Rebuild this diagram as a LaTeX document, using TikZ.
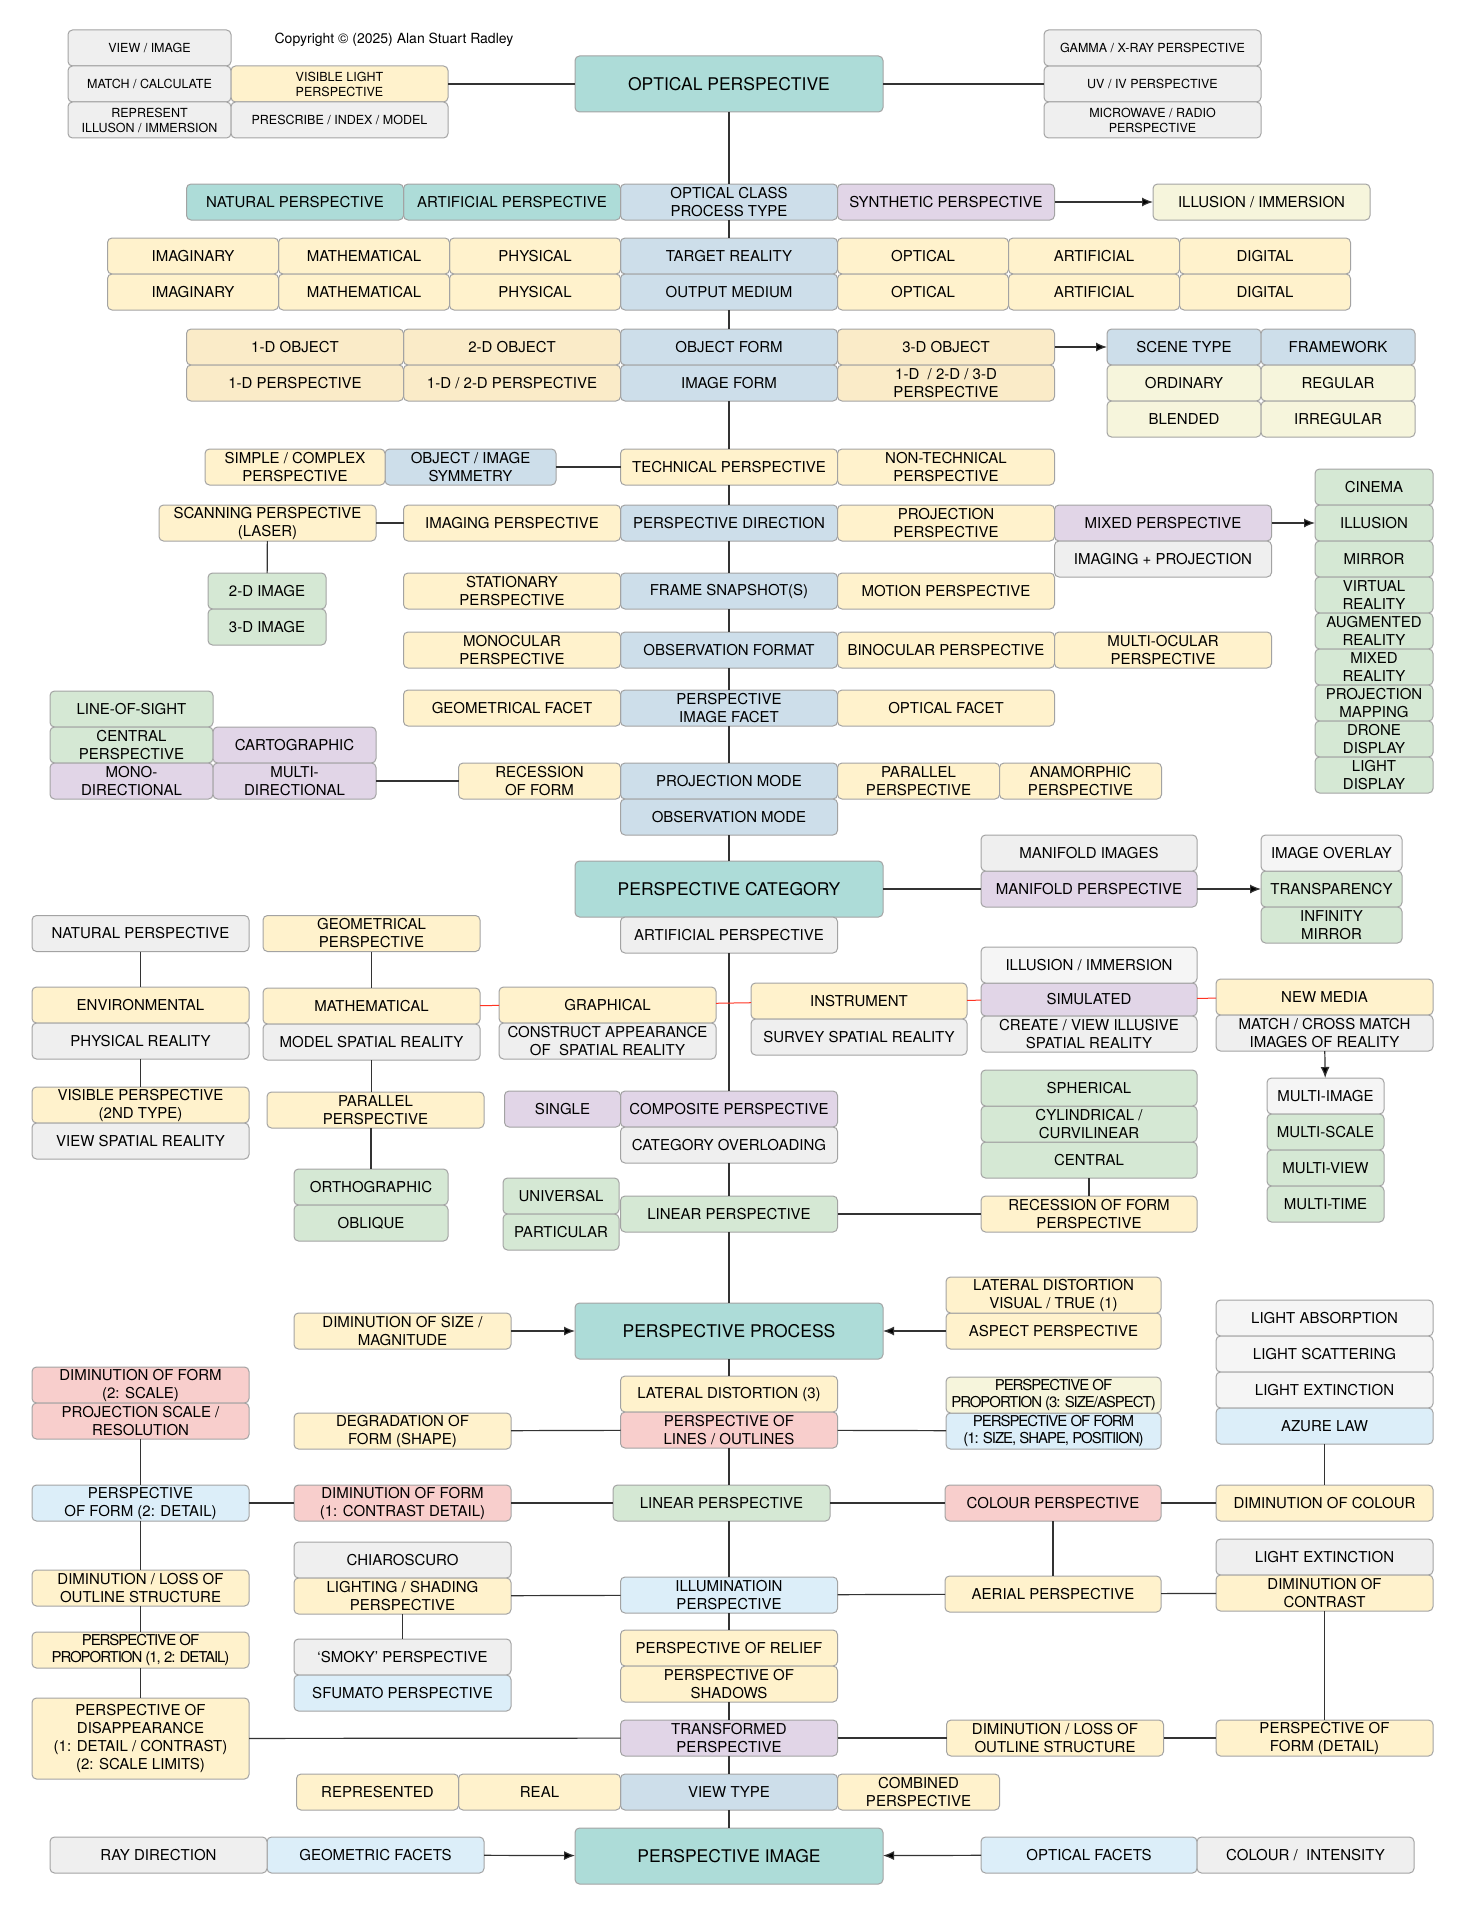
\documentclass[tikz,border=0pt]{standalone}
\usepackage{fontspec}
\setmainfont{TeX Gyre Heros}
\newfontfamily\tightfam[LetterSpace=-7]{TeX Gyre Heros}
\usetikzlibrary{positioning, arrows.meta}

\definecolor{tealfill}{HTML}{ADDCD8}
\definecolor{classfill}{HTML}{CDDEEA}
\definecolor{yelfill}{HTML}{FFF2CC}
\definecolor{tanfill}{HTML}{FAEBC8}
\definecolor{purfill}{HTML}{E1D5E7}
\definecolor{grnfill}{HTML}{D5E8D4}
\definecolor{gryfill}{HTML}{EFEFEF}
\definecolor{palefill}{HTML}{F5F5F5}
\definecolor{creamfill}{HTML}{F6F5DC}
\definecolor{pinkfill}{HTML}{F8CECC}
\definecolor{skyfill}{HTML}{DCEEF9}
\definecolor{boxline}{HTML}{A3A3A3}
\definecolor{linkline}{HTML}{333333}
\definecolor{redline}{HTML}{FF3322}

\newcommand{\cellfont}{\fontsize{15}{18}\selectfont}
\newcommand{\cellsmall}{\fontsize{12.5}{15}\selectfont}
\newcommand{\cellbig}{\fontsize{17.5}{21}\selectfont}
\newcommand{\celltight}{\tightfam\fontsize{15}{17}\selectfont}
\newcommand{\copyfont}{\fontsize{14}{16}\selectfont}

\tikzset{
  cell/.style={draw=boxline, line width=1pt, rounded corners=4.5pt, inner xsep=0pt, inner ysep=1pt,
    outer sep=0pt, align=center, minimum width=217pt, minimum height=36pt, font=\cellfont},
  topbox/.style={cell, fill=tealfill, minimum width=308pt, minimum height=56pt, font=\cellbig},
  tealbox/.style={cell, fill=tealfill},
  classbox/.style={cell, fill=classfill},
  yelbox/.style={cell, fill=yelfill},
  tanbox/.style={cell, fill=tanfill},
  purbox/.style={cell, fill=purfill},
  grnbox/.style={cell, fill=grnfill},
  grybox/.style={cell, fill=gryfill},
  palebox/.style={cell, fill=palefill},
  creambox/.style={cell, fill=creamfill},
  pinkbox/.style={cell, fill=pinkfill},
  skybox/.style={cell, fill=skyfill},
  wd/.style={minimum width=#1},
  smalltext/.style={font=\cellsmall},
  tighttext/.style={font=\celltight},
  link/.style={draw=linkline, line width=1.2pt},
  redlink/.style={draw=redline, line width=1pt},
  arrowlink/.style={link, -{Latex[length=11pt,width=9pt]}}
}

\begin{document}
\begin{tikzpicture}[x=1pt, y=-1pt, node distance=0pt]
  \useasboundingbox (0,0) rectangle (1464,1916);

  % header
  \node[grybox, wd=163pt, smalltext] (view) at (149.5,48) {VIEW / IMAGE};
  \node[grybox, wd=163pt, smalltext] (match) [below=of view] {MATCH / CALCULATE};
  \node[grybox, wd=163pt, smalltext] (repres) [below=of match] {REPRESENT\\ILLUSON / IMMERSION};
  \node[yelbox, smalltext] (vislight) [right=of match] {VISIBLE LIGHT\\PERSPECTIVE};
  \node[grybox, smalltext] (prescribe) [below=of vislight] {PRESCRIBE / INDEX / MODEL};
  \node[font=\copyfont] (copy) at (394,40) {Copyright © (2025) Alan Stuart Radley};

  \node[topbox] (optical) at (729,84) {OPTICAL PERSPECTIVE};
  \node[grybox, smalltext] (uv) at (1152.5,84) {UV / IV PERSPECTIVE};
  \node[grybox, smalltext] (gamma) [above=of uv] {GAMMA / X-RAY PERSPECTIVE};
  \node[grybox, smalltext] (micro) [below=of uv] {MICROWAVE / RADIO\\PERSPECTIVE};

  % optical class
  \node[classbox] (optclass) at (729,202) {OPTICAL CLASS\\PROCESS TYPE};
  \node[tealbox] (artp1) [left=of optclass] {ARTIFICIAL PERSPECTIVE};
  \node[tealbox] (natp1) [left=of artp1] {NATURAL PERSPECTIVE};
  \node[purbox] (synth) [right=of optclass] {SYNTHETIC PERSPECTIVE};
  \node[creambox] (illA) at (1261.5,202) {ILLUSION / IMMERSION};

  \node[classbox] (target) at (729,256) {TARGET REALITY};
  \node[classbox] (output) [below=of target] {OUTPUT MEDIUM};
  \node[yelbox, wd=171pt] (physA) [left=of target] {PHYSICAL};
  \node[yelbox, wd=171pt] (mathA) [left=of physA] {MATHEMATICAL};
  \node[yelbox, wd=171pt] (imagA) [left=of mathA] {IMAGINARY};
  \node[yelbox, wd=171pt] (physB) [left=of output] {PHYSICAL};
  \node[yelbox, wd=171pt] (mathC) [left=of physB] {MATHEMATICAL};
  \node[yelbox, wd=171pt] (imagB) [left=of mathC] {IMAGINARY};
  \node[yelbox, wd=171pt] (opticA) [right=of target] {OPTICAL};
  \node[yelbox, wd=171pt] (artA) [right=of opticA] {ARTIFICIAL};
  \node[yelbox, wd=171pt] (digA) [right=of artA] {DIGITAL};
  \node[yelbox, wd=171pt] (opticB) [right=of output] {OPTICAL};
  \node[yelbox, wd=171pt] (artB) [right=of opticB] {ARTIFICIAL};
  \node[yelbox, wd=171pt] (digB) [right=of artB] {DIGITAL};

  % form
  \node[classbox] (objform) at (729,347) {OBJECT FORM};
  \node[classbox] (imgform) [below=of objform] {IMAGE FORM};
  \node[tanbox] (obj2) [left=of objform] {2-D OBJECT};
  \node[tanbox] (obj1) [left=of obj2] {1-D OBJECT};
  \node[tanbox] (pers12) [left=of imgform] {1-D / 2-D PERSPECTIVE};
  \node[tanbox] (pers1) [left=of pers12] {1-D PERSPECTIVE};
  \node[tanbox] (obj3) [right=of objform] {3-D OBJECT};
  \node[tanbox] (pers123) [right=of imgform] {1-D\ \ / 2-D / 3-D\\PERSPECTIVE};
  \node[classbox, wd=154pt] (scene) at (1184,347) {SCENE TYPE};
  \node[classbox, wd=154pt] (framew) [right=of scene] {FRAMEWORK};
  \node[creambox, wd=154pt] (ordinary) [below=of scene] {ORDINARY};
  \node[creambox, wd=154pt] (regular) [below=of framew] {REGULAR};
  \node[creambox, wd=154pt] (blended) [below=of ordinary] {BLENDED};
  \node[creambox, wd=154pt] (irregular) [below=of regular] {IRREGULAR};

  % technical
  \node[yelbox] (tech) at (729,467) {TECHNICAL PERSPECTIVE};
  \node[yelbox] (nontech) [right=of tech] {NON-TECHNICAL\\PERSPECTIVE};
  \node[classbox, wd=171pt] (symm) at (470.5,467) {OBJECT / IMAGE\\SYMMETRY};
  \node[yelbox, wd=180pt] (simple) [left=of symm] {SIMPLE / COMPLEX\\PERSPECTIVE};

  % direction
  \node[classbox] (pdir) at (729,523) {PERSPECTIVE DIRECTION};
  \node[yelbox] (imaging) [left=of pdir] {IMAGING PERSPECTIVE};
  \node[yelbox] (projp) [right=of pdir] {PROJECTION\\PERSPECTIVE};
  \node[purbox] (mixed) [right=of projp] {MIXED PERSPECTIVE};
  \node[grybox] (imgproj) [below=of mixed] {IMAGING + PROJECTION};
  \node[yelbox] (scanning) at (267.5,523) {SCANNING PERSPECTIVE\\(LASER)};
  \node[grnbox, wd=118pt] (img2d) at (267,591) {2-D IMAGE};
  \node[grnbox, wd=118pt] (img3d) [below=of img2d] {3-D IMAGE};

  \node[grnbox, wd=118pt] (cinema) at (1374,487) {CINEMA};
  \node[grnbox, wd=118pt] (illB) [below=of cinema] {ILLUSION};
  \node[grnbox, wd=118pt] (mirror) [below=of illB] {MIRROR};
  \node[grnbox, wd=118pt] (vr) [below=of mirror] {VIRTUAL\\REALITY};
  \node[grnbox, wd=118pt] (ar) [below=of vr] {AUGMENTED\\REALITY};
  \node[grnbox, wd=118pt] (mr) [below=of ar] {MIXED\\REALITY};
  \node[grnbox, wd=118pt] (pmap) [below=of mr] {PROJECTION\\MAPPING};
  \node[grnbox, wd=118pt] (drone) [below=of pmap] {DRONE\\DISPLAY};
  \node[grnbox, wd=118pt] (lightd) [below=of drone] {LIGHT\\DISPLAY};

  \node[classbox] (frame) at (729,591) {FRAME SNAPSHOT(S)};
  \node[yelbox] (stat) [left=of frame] {STATIONARY\\PERSPECTIVE};
  \node[yelbox] (motion) [right=of frame] {MOTION PERSPECTIVE};

  \node[classbox] (obsfmt) at (729,650) {OBSERVATION FORMAT};
  \node[yelbox] (monoc) [left=of obsfmt] {MONOCULAR\\PERSPECTIVE};
  \node[yelbox] (binoc) [right=of obsfmt] {BINOCULAR PERSPECTIVE};
  \node[yelbox] (multioc) [right=of binoc] {MULTI-OCULAR\\PERSPECTIVE};

  \node[classbox] (facet) at (729,708) {PERSPECTIVE\\IMAGE FACET};
  \node[yelbox] (geofacet) [left=of facet] {GEOMETRICAL FACET};
  \node[yelbox] (optfacet) [right=of facet] {OPTICAL FACET};

  \node[classbox] (projmode) at (729,781) {PROJECTION MODE};
  \node[classbox] (obsmode) [below=of projmode] {OBSERVATION MODE};
  \node[yelbox, wd=162pt] (recess) [left=of projmode] {RECESSION\\OF FORM};
  \node[yelbox, wd=162pt] (parA) [right=of projmode] {PARALLEL\\PERSPECTIVE};
  \node[yelbox, wd=162pt] (anam) [right=of parA] {ANAMORPHIC\\PERSPECTIVE};
  \node[grnbox, wd=163pt] (los) at (131.5,709) {LINE-OF-SIGHT};
  \node[grnbox, wd=163pt] (centralA) [below=of los] {CENTRAL\\PERSPECTIVE};
  \node[purbox, wd=163pt] (monodir) [below=of centralA] {MONO-\\DIRECTIONAL};
  \node[purbox, wd=163pt] (carto) [right=of centralA] {CARTOGRAPHIC};
  \node[purbox, wd=163pt] (multidir) [below=of carto] {MULTI-\\DIRECTIONAL};

  % category
  \node[topbox] (pcat) at (729,889) {PERSPECTIVE CATEGORY};
  \node[grybox] (artp2) [below=of pcat] {ARTIFICIAL PERSPECTIVE};
  \node[purbox, wd=216pt] (manifp) at (1089,889) {MANIFOLD PERSPECTIVE};
  \node[grybox, wd=216pt] (manifimg) [above=of manifp] {MANIFOLD IMAGES};
  \node[grnbox, wd=141pt] (transp) at (1331.5,889) {TRANSPARENCY};
  \node[palebox, wd=141pt] (overlay) [above=of transp] {IMAGE OVERLAY};
  \node[grnbox, wd=141pt] (infinity) [below=of transp] {INFINITY\\MIRROR};

  \node[grybox] (natp2) at (140.5,933.5) {NATURAL PERSPECTIVE};
  \node[yelbox] (geomp) at (371.5,933.5) {GEOMETRICAL\\PERSPECTIVE};
  \node[yelbox] (env) at (140.5,1005) {ENVIRONMENTAL};
  \node[grybox] (physreal) [below=of env] {PHYSICAL REALITY};
  \node[yelbox] (visp) at (140.5,1105) {VISIBLE PERSPECTIVE\\(2ND TYPE)};
  \node[grybox] (viewreal) [below=of visp] {VIEW SPATIAL REALITY};
  \node[yelbox] (mathB) at (371.5,1006) {MATHEMATICAL};
  \node[grybox] (modelreal) [below=of mathB] {MODEL SPATIAL REALITY};
  \node[yelbox] (parB) at (375.5,1110) {PARALLEL\\PERSPECTIVE};
  \node[grnbox, wd=154pt] (ortho) at (371,1187) {ORTHOGRAPHIC};
  \node[grnbox, wd=154pt] (oblique) [below=of ortho] {OBLIQUE};

  \node[yelbox] (graphical) at (607.5,1005) {GRAPHICAL};
  \node[grybox] (construct) [below=of graphical] {CONSTRUCT APPEARANCE\\OF\ \ SPATIAL REALITY};
  \node[yelbox, wd=216pt] (instr) at (859,1001) {INSTRUMENT};
  \node[grybox, wd=216pt] (survey) [below=of instr] {SURVEY SPATIAL REALITY};
  \node[purbox, wd=216pt, minimum height=33pt] (simul) at (1089,999.5) {SIMULATED};
  \node[palebox, wd=216pt] (illC) [above=of simul] {ILLUSION / IMMERSION};
  \node[grybox, wd=216pt] (create) [below=of simul] {CREATE / VIEW ILLUSIVE\\SPATIAL REALITY};
  \node[yelbox] (newmedia) at (1324.5,997) {NEW MEDIA};
  \node[grybox] (matchB) [below=of newmedia] {MATCH / CROSS MATCH\\IMAGES OF REALITY};
  \node[palebox, wd=117pt] (multiimg) at (1325.5,1096) {MULTI-IMAGE};
  \node[grnbox, wd=117pt] (multiscale) [below=of multiimg] {MULTI-SCALE};
  \node[grnbox, wd=117pt] (multiview) [below=of multiscale] {MULTI-VIEW};
  \node[grnbox, wd=117pt] (multitime) [below=of multiview] {MULTI-TIME};

  \node[purbox] (composite) at (729,1109) {COMPOSITE PERSPECTIVE};
  \node[grybox] (overload) [below=of composite] {CATEGORY OVERLOADING};
  \node[purbox, wd=116pt] (single) [left=of composite] {SINGLE};
  \node[grnbox] (linearA) at (729,1214) {LINEAR PERSPECTIVE};
  \node[grnbox, wd=116pt] (univ) at (561,1196) {UNIVERSAL};
  \node[grnbox, wd=116pt] (partic) [below=of univ] {PARTICULAR};
  \node[yelbox, wd=216pt] (recform) at (1089,1214) {RECESSION OF FORM\\PERSPECTIVE};
  \node[grnbox, wd=216pt] (centralB) at (1089,1160) {CENTRAL};
  \node[grnbox, wd=216pt] (cylind) [above=of centralB] {CYLINDRICAL /\\CURVILINEAR};
  \node[grnbox, wd=216pt] (spher) [above=of cylind] {SPHERICAL};

  % process
  \node[topbox] (pproc) at (729,1331) {PERSPECTIVE PROCESS};
  \node[yelbox] (dimsize) at (402.5,1331) {DIMINUTION OF SIZE /\\MAGNITUDE};
  \node[yelbox, wd=215pt] (aspect) at (1053.5,1331) {ASPECT PERSPECTIVE};
  \node[yelbox, wd=215pt] (latB) [above=of aspect] {LATERAL DISTORTION\\VISUAL / TRUE (1)};
  \node[yelbox] (latdist) at (729,1394) {LATERAL DISTORTION (3)};
  \node[pinkbox] (plines) [below=of latdist] {PERSPECTIVE OF\\LINES / OUTLINES};
  \node[yelbox] (degrad) at (402.5,1431) {DEGRADATION OF\\FORM (SHAPE)};
  \node[skybox, wd=215pt, tighttext] (pform1) at (1053.5,1431) {PERSPECTIVE OF FORM\\(1: SIZE, SHAPE, POSITIION)};
  \node[creambox, wd=215pt, tighttext] (pprop3) [above=of pform1] {PERSPECTIVE OF\\PROPORTION (3: SIZE/ASPECT)};
  \node[palebox] (lightabs) at (1324.5,1318) {LIGHT ABSORPTION};
  \node[palebox] (lightscat) [below=of lightabs] {LIGHT SCATTERING};
  \node[palebox] (lightext1) [below=of lightscat] {LIGHT EXTINCTION};
  \node[skybox] (azure) [below=of lightext1] {AZURE LAW};

  \node[pinkbox] (dimform2) at (140.5,1385) {DIMINUTION OF FORM\\(2: SCALE)};
  \node[pinkbox] (projscale) [below=of dimform2] {PROJECTION SCALE /\\RESOLUTION};
  \node[skybox] (pform2) at (140.5,1503) {PERSPECTIVE\\OF FORM (2: DETAIL)};
  \node[pinkbox] (dimform1) at (402.5,1503) {DIMINUTION OF FORM\\(1: CONTRAST DETAIL)};
  \node[grnbox] (linearB) at (721.5,1503) {LINEAR PERSPECTIVE};
  \node[pinkbox, wd=216pt] (colourp) at (1053,1503) {COLOUR PERSPECTIVE};
  \node[yelbox] (dimcol) at (1324.5,1503) {DIMINUTION OF COLOUR};

  \node[grybox] (lightext2) at (1324.5,1557) {LIGHT EXTINCTION};
  \node[yelbox] (dimcon) [below=of lightext2] {DIMINUTION OF\\CONTRAST};
  \node[yelbox, wd=216pt] (aerial) at (1053,1594) {AERIAL PERSPECTIVE};
  \node[skybox] (illum) at (729,1595) {ILLUMINATIOIN\\PERSPECTIVE};
  \node[grybox] (chiaro) at (402.5,1560) {CHIAROSCURO};
  \node[yelbox] (lighting) [below=of chiaro] {LIGHTING / SHADING\\PERSPECTIVE};
  \node[grybox] (smoky) at (402.5,1657) {‘SMOKY’ PERSPECTIVE};
  \node[skybox] (sfumato) [below=of smoky] {SFUMATO PERSPECTIVE};
  \node[yelbox] (relief) at (729,1648) {PERSPECTIVE OF RELIEF};
  \node[yelbox] (shadows) [below=of relief] {PERSPECTIVE OF\\SHADOWS};

  \node[purbox] (transf) at (729,1738) {TRANSFORMED\\PERSPECTIVE};
  \node[yelbox] (dimloss2) at (1055,1738) {DIMINUTION / LOSS OF\\OUTLINE STRUCTURE};
  \node[yelbox] (pformd) at (1324.5,1738) {PERSPECTIVE OF\\FORM (DETAIL)};
  \node[yelbox] (dimloss1) at (140.5,1588) {DIMINUTION / LOSS OF\\OUTLINE STRUCTURE};
  \node[yelbox, tighttext] (pprop12) at (140.5,1650) {PERSPECTIVE OF\\PROPORTION (1, 2: DETAIL)};
  \node[yelbox, minimum height=81pt] (disapp) at (140.5,1738.5) {PERSPECTIVE OF\\DISAPPEARANCE\\(1: DETAIL / CONTRAST)\\(2: SCALE LIMITS)};

  % image
  \node[classbox] (viewtype) at (729,1792) {VIEW TYPE};
  \node[yelbox, wd=162pt] (real) [left=of viewtype] {REAL};
  \node[yelbox, wd=162pt] (repr) [left=of real] {REPRESENTED};
  \node[yelbox, wd=162pt] (combined) [right=of viewtype] {COMBINED\\PERSPECTIVE};
  \node[topbox] (pimage) at (729,1856) {PERSPECTIVE IMAGE};
  \node[skybox] (geomfac) at (375.5,1855) {GEOMETRIC FACETS};
  \node[grybox] (raydir) [left=of geomfac] {RAY DIRECTION};
  \node[skybox, wd=216pt] (optfac) at (1089,1855) {OPTICAL FACETS};
  \node[grybox] (colint) [right=of optfac] {COLOUR /\ \ INTENSITY};

  % connectors
  \path[link]
    (vislight) edge (optical)
    (optical) edge (uv)
    (optical) edge (optclass)
    (optclass) edge (target)
    (output) edge (objform)
    (imgform) edge (tech)
    (symm) edge (tech)
    (tech) edge (pdir)
    (scanning) edge (imaging)
    (scanning) edge (img2d)
    (pdir) edge (frame)
    (frame) edge (obsfmt)
    (obsfmt) edge (facet)
    (facet) edge (projmode)
    (multidir) edge (recess)
    (obsmode) edge (pcat)
    (pcat) edge (manifp)
    (artp2) edge (composite)
    (natp2) edge (env)
    (physreal) edge (visp)
    (geomp) edge (mathB)
    (overload) edge (linearA)
    (linearA) edge (recform)
    (centralB) edge (recform)
    (linearA) edge (pproc)
    (pproc) edge (latdist)
    (degrad) edge (plines)
    (plines) edge (pform1)
    (projscale) edge (pform2)
    (pform2) edge (dimform1)
    (dimform1) edge (linearB)
    (linearB) edge (colourp)
    (colourp) edge (dimcol)
    (azure) edge (dimcol)
    (colourp) edge (aerial)
    (aerial) edge (dimcon)
    (illum) edge (aerial)
    (lighting) edge (illum)
    (lighting) edge (smoky)
    (illum) edge (relief)
    (shadows) edge (transf)
    (transf) edge (dimloss2)
    (dimloss2) edge (pformd)
    (dimcon) edge (pformd)
    (pform2) edge (dimloss1)
    (dimloss1) edge (pprop12)
    (pprop12) edge (disapp)
    (disapp) edge (transf)
    (transf) edge (viewtype)
    (viewtype) edge (pimage);
  \draw[link] (modelreal.south) -- (modelreal.south |- parB.north);
  \draw[link] (ortho.north |- parB.south) -- (ortho.north);
  \draw[link] (plines.south) -- (plines.south |- linearB.north);
  \draw[link] (illum.north |- linearB.south) -- (illum.north);

  \path[redlink]
    (mathB) edge (graphical)
    (graphical) edge (instr)
    (instr) edge (simul)
    (simul) edge (newmedia);

  \path[arrowlink]
    (synth) edge (illA)
    (obj3) edge (scene)
    (mixed) edge (illB)
    (manifp) edge (transp)
    (matchB) edge (multiimg)
    (dimsize) edge (pproc)
    (aspect) edge (pproc)
    (geomfac) edge (pimage)
    (optfac) edge (pimage);
\end{tikzpicture}
\end{document}
